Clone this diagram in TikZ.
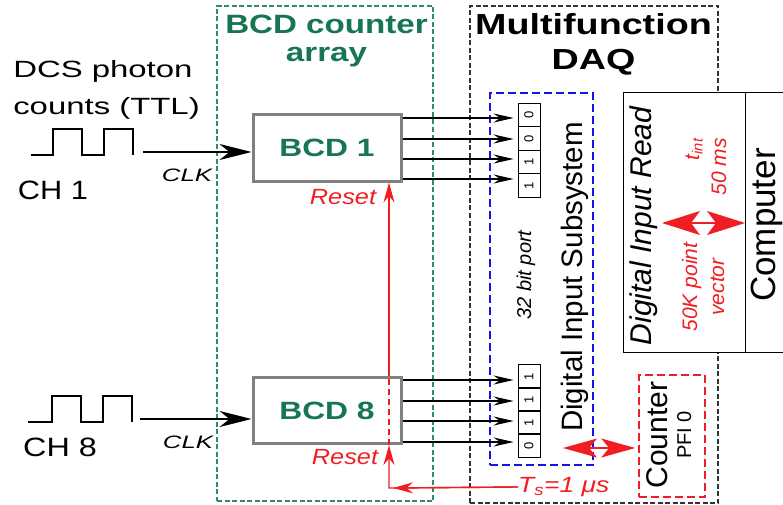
\documentclass[tikz,border=0pt]{standalone}
\usepackage{fontspec}
\setmainfont{Liberation Sans}
\usepackage{graphicx}
\usetikzlibrary{arrows.meta,calc}
\definecolor{boxgreen}{RGB}{45,140,105}
\definecolor{txtgreen}{RGB}{22,118,82}
\definecolor{myred}{RGB}{240,30,35}
\definecolor{myblue}{RGB}{20,20,235}
\newcommand{\fsz}[2]{\fontsize{#1}{#2}\selectfont}
\newcommand{\hsx}[2]{\scalebox{#1}[1]{#2}}
\begin{document}
\begin{tikzpicture}[x=1pt,y=-1pt,
  gbox/.style={draw=boxgreen, line width=1.3pt, dash pattern=on 5pt off 2.5pt, inner sep=0pt},
  kbox/.style={draw=black!80, line width=1.2pt, dash pattern=on 5pt off 2.5pt, inner sep=0pt},
  bbox/.style={draw=myblue, line width=1.6pt, dash pattern=on 8pt off 4pt, inner sep=0pt},
  rbox/.style={draw=myred, line width=1.6pt, dash pattern=on 8pt off 4pt, inner sep=0pt},
  sbox/.style={draw, line width=1pt, fill=white, inner sep=0pt},
  bcdbox/.style={draw=black!50, line width=3pt, fill=white, minimum width=148pt, minimum height=66pt, inner sep=0pt, font=\bfseries\fsz{25}{25}, text=txtgreen},
  cell/.style={draw, line width=0.8pt, rotate=90, minimum width=23.5pt, minimum height=22pt, inner sep=0pt, font=\fsz{13}{13}},
  bitarrow/.style={line width=1.6pt, -{Stealth[length=20pt,width=9pt]}, shorten >=4pt},
  clkarrow/.style={line width=1.8pt, -{Stealth[length=32pt,width=16pt,inset=10pt]}},
  rline/.style={draw=myred, line width=1.4pt},
  rtip/.style={-{Stealth[length=20pt,width=11pt]}},
  bigdbl/.style={draw=myred, line width=1.2pt, {Stealth[length=38pt,width=24pt,inset=9pt]}-{Stealth[length=38pt,width=24pt,inset=9pt]}},
  smalldbl/.style={draw=myred, line width=1.2pt, {Stealth[length=34pt,width=19pt,inset=8pt]}-{Stealth[length=34pt,width=19pt,inset=8pt]}},
  wave/.style={line width=1.4pt},
  redtxt/.style={text=myred, font=\itshape\fsz{21}{27}, inner sep=0pt}
]
\useasboundingbox (0,0) rectangle (783,505);
\clip (0,0) rectangle (783,505);

% containers
\node[gbox, minimum width=216pt, minimum height=495pt] (arraybox) at (325,253.5) {};
\node[kbox, minimum width=248pt, minimum height=497pt] (daqbox) at (594,254.5) {};
\node[bbox, minimum width=103pt, minimum height=372pt] (dis) at (541.5,279) {};
\node[sbox, minimum width=122pt, minimum height=259pt] (dir) at (684,222.5) {};
\node[sbox, minimum width=60pt, minimum height=259pt, anchor=west] (comp) at (745,222.5) {};
\node[rbox, minimum width=66pt, minimum height=122pt] (cnt) at (672,436) {};

% titles
\node[font=\bfseries\fsz{26.5}{28}, text=txtgreen, xscale=1.25, align=center, inner sep=0pt] (t1) at (326.5,41) {BCD counter\\array};
\node[font=\bfseries\fsz{29}{35}, xscale=1.3, align=center, inner sep=0pt] (t2) at (593.5,44.5) {Multifunction\\DAQ};

% left texts
\node[font=\fsz{23.5}{37}, xscale=1.4, align=left, anchor=west, inner sep=0pt] (dcs) at (13,89.5) {DCS photon\\counts (TTL)};
\node[font=\fsz{26.5}{26.5}, inner sep=0pt] (ch1) at (53,190) {\hsx{1.16}{CH 1}};
\node[font=\fsz{26.5}{26.5}, inner sep=0pt] (ch8) at (60,447) {\hsx{1.22}{CH 8}};

% waveforms
\draw[wave] (31,155) -- (53,155) -- (53,129) -- (82,129) -- (82,155) -- (104,155) -- (104,129) -- (133,129) -- (133,155);
\draw[wave] (28,422) -- (52,422) -- (52,396) -- (81,396) -- (81,422) -- (103,422) -- (103,396) -- (132,396) -- (132,422);

% BCD boxes
\node[bcdbox] (bcd1) at (327,148) {\hsx{1.27}{BCD 1}};
\node[bcdbox] (bcd8) at (327,410.5) {\hsx{1.27}{BCD 8}};

% CLK
\coordinate (w1) at (143,152);
\coordinate (w8) at (140,419);
\draw[clkarrow] (w1) -- (w1 -| bcd1.west);
\draw[clkarrow] (w8) -- (w8 -| bcd8.west);
\node[font=\itshape\fsz{18}{18}, inner sep=0pt] (clk1) at (187,175) {\hsx{1.43}{CLK}};
\node[font=\itshape\fsz{18}{18}, inner sep=0pt] (clk8) at (188,442) {\hsx{1.43}{CLK}};

% registers
\node[cell] (r1a) at (529,115) {0};
\node[cell] (r1b) at (529,138.5) {0};
\node[cell] (r1c) at (529,162) {1};
\node[cell] (r1d) at (529,185.5) {1};
\node[cell] (r8a) at (529,376.5) {1};
\node[cell] (r8b) at (529,399.5) {1};
\node[cell] (r8c) at (529,422.5) {1};
\node[cell] (r8d) at (529,445.5) {0};

% bit arrows
\path (bcd1.east) ++(0,-30) coordinate (o1a) (bcd1.east) ++(0,-9) coordinate (o1b)
      (bcd1.east) ++(0,11) coordinate (o1c) (bcd1.east) ++(0,31) coordinate (o1d);
\path (bcd8.east) ++(0,-30.5) coordinate (o8a) (bcd8.east) ++(0,-9.5) coordinate (o8b)
      (bcd8.east) ++(0,10.5) coordinate (o8c) (bcd8.east) ++(0,31.5) coordinate (o8d);
\foreach \c in {o1a,o1b,o1c,o1d} \draw[bitarrow] (\c) -- (\c -| r1a.north);
\foreach \c in {o8a,o8b,o8c,o8d} \draw[bitarrow] (\c) -- (\c -| r8a.north);

% DAQ texts
\node[rotate=90, anchor=base, font=\fsz{29.5}{29.5}, inner sep=0pt] (distxt) at (582,277) {Digital Input Subsystem};
\node[rotate=90, anchor=base, font=\itshape\fsz{20}{20}, inner sep=0pt] (port) at (531,275) {32 bit port};
\node[rotate=90, anchor=base, font=\itshape\fsz{30}{30}, inner sep=0pt] (dirtxt) at (651,226) {Digital Input Read};
\node[rotate=90, anchor=base, font=\fsz{35}{35}, inner sep=0pt] (comptxt) at (775,225) {Computer};
\node[rotate=90, redtxt, align=right] (tint) at (706,167) {t\textsubscript{int}\\50 ms};
\node[rotate=90, redtxt, align=center] (vec) at (703,287) {50K point\\vector};
\node[rotate=90, anchor=base, font=\fsz{30}{30}, inner sep=0pt] (cnttxt) at (667,435) {Counter};
\node[rotate=90, anchor=base, font=\fsz{20}{20}, inner sep=0pt] (pfi) at (691,435) {PFI 0};

% red double arrows
\coordinate (da) at (662,223);
\draw[bigdbl] (da) -- (da -| comp.west);
\coordinate (db) at (563,448);
\draw[smalldbl, shorten >=3pt] (db) -- (db -| cnt.west);

% reset
\node[text=myred, font=\itshape\fsz{22}{22}, inner sep=0pt] (rst1) at (343,197) {\hsx{1.15}{Reset}};
\node[text=myred, font=\itshape\fsz{22}{22}, inner sep=0pt] (rst8) at (345,457) {\hsx{1.15}{Reset}};
\node[text=myred, font=\itshape\fsz{22}{22}, inner sep=0pt, anchor=west] (ts) at (518,487) {\hsx{1.2}{T\textsubscript{s}=1 μs}};
\coordinate (rs) at (389,488);
\draw[rline, rtip] (ts.west) -- (rs) -- (rs |- bcd8.south);
\draw[rline, rtip] (ts.west) -- ($(rs)+(4,0)$);
\draw[rline, dash pattern=on 6pt off 4pt] (rs |- bcd8.south) -- (rs |- bcd8.north);
\draw[rline, rtip] (rs |- bcd8.north) -- (rs |- bcd1.south);
\end{tikzpicture}
\end{document}
